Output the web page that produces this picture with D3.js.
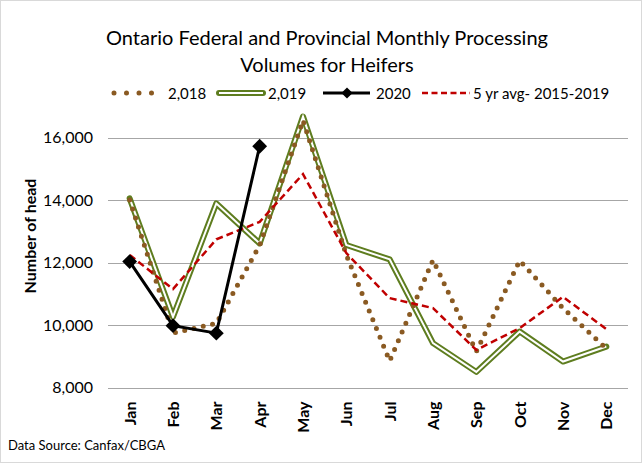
<!DOCTYPE html>
<html>
<head>
<meta charset="utf-8">
<script src="https://cdn.jsdelivr.net/npm/d3@7"></script>
<style>
  body { margin: 0; background: #fff; }
  svg text { font-family: Lato, "Open Sans", sans-serif; }
</style>
</head>
<body>
<div id="chart"></div>
<script>
// chart data
const months = ["Jan", "Feb", "Mar", "Apr", "May", "Jun", "Jul", "Aug", "Sep", "Oct", "Nov", "Dec"];
const yTicks = [8000, 10000, 12000, 14000, 16000];
const vol2018 = [14000, 9740, 10050, 12550, 16550, 12240, 8850, 12080, 9150, 12060, 10540, 9250];
const vol2019 = [14050, 10260, 13890, 12610, 16670, 12560, 12100, 9420, 8500, 9790, 8830, 9310];
const vol2020 = [12030, 9980, 9740, 15720];
const avg5yr = [12240, 11150, 12740, 13300, 14830, 12300, 10860, 10540, 9200, 9900, 10900, 9870];

const width = 642, height = 463;
const margin = { left: 108, right: 14, top: 100, bottom: 75 };

const svg = d3.select("#chart")
    .append("svg")
    .attr("width", width)
    .attr("height", height);

// outer frame
svg.append("rect")
    .attr("x", 0.5).attr("y", 0.5)
    .attr("width", width - 1).attr("height", height - 1)
    .attr("fill", "#fff")
    .attr("stroke", "#d9d9d9");

const xScale = d3.scalePoint()
    .domain(months)
    .range([margin.left, width - margin.right])
    .padding(0.5);

const yScale = d3.scaleLinear()
    .domain([8000, 16000])
    .range([387.5, 137.5]);

// gridlines
svg.append("g")
    .selectAll("line")
    .data(yTicks)
    .enter().append("line")
    .attr("x1", margin.left)
    .attr("x2", width - margin.right)
    .attr("y1", d => Math.round(yScale(d)) + 0.5)
    .attr("y2", d => Math.round(yScale(d)) + 0.5)
    .attr("stroke", "#a6a6a6")
    .attr("stroke-width", 1);

// y axis labels
const yAxis = svg.append("g")
    .attr("transform", `translate(${margin.left}, 0)`)
    .call(d3.axisLeft(yScale).tickValues(yTicks).tickFormat(d3.format(",")).tickSize(0).tickPadding(15));
yAxis.select(".domain").remove();
yAxis.selectAll("text")
    .attr("font-size", 16)
    .attr("fill", "#000")
    .style("font-family", "Lato, sans-serif");

// x axis labels (rotated)
const xAxis = svg.append("g")
    .attr("transform", `translate(0, ${yScale(8000)})`)
    .call(d3.axisBottom(xScale).tickSize(0));
xAxis.select(".domain").remove();
xAxis.selectAll("text")
    .attr("transform", "rotate(-90)")
    .attr("x", -14)
    .attr("y", 0)
    .attr("dy", "0.35em")
    .attr("text-anchor", "end")
    .attr("font-size", 16)
    .attr("font-weight", "bold")
    .attr("fill", "#000")
    .style("font-family", "Lato, sans-serif");

const line = d3.line()
    .x((d, i) => xScale(months[i]))
    .y(d => yScale(d));

// 2019 - double green line
svg.append("path")
    .datum(vol2019)
    .attr("d", line)
    .attr("fill", "none")
    .attr("stroke", "#5e7d1f")
    .attr("stroke-width", 6)
    .attr("stroke-linejoin", "round")
    .attr("stroke-linecap", "round");
svg.append("path")
    .datum(vol2019)
    .attr("d", line)
    .attr("fill", "none")
    .attr("stroke", "#fff")
    .attr("stroke-width", 2);

// 2018 - brown round dots
svg.append("path")
    .datum(vol2018)
    .attr("d", line)
    .attr("fill", "none")
    .attr("stroke", "#8a5a22")
    .attr("stroke-width", 5)
    .attr("stroke-linecap", "round")
    .attr("stroke-dasharray", "0,9.5");

// 5 yr avg - red dashed
svg.append("path")
    .datum(avg5yr)
    .attr("d", line)
    .attr("fill", "none")
    .attr("stroke", "#c00000")
    .attr("stroke-width", 2.5)
    .attr("stroke-dasharray", "7,4");

// 2020 - black line with diamonds
svg.append("path")
    .datum(vol2020)
    .attr("d", line)
    .attr("fill", "none")
    .attr("stroke", "#000")
    .attr("stroke-width", 3);
svg.append("g")
    .selectAll("path")
    .data(vol2020)
    .enter().append("path")
    .attr("d", d3.symbol().type(d3.symbolDiamond2).size(140))
    .attr("transform", (d, i) => `translate(${xScale(months[i])}, ${yScale(d)})`)
    .attr("fill", "#000");

// title
svg.append("text")
    .attr("x", 327).attr("y", 45)
    .attr("text-anchor", "middle")
    .attr("font-size", 20)
    .text("Ontario Federal and Provincial Monthly Processing");
svg.append("text")
    .attr("x", 327).attr("y", 72)
    .attr("text-anchor", "middle")
    .attr("font-size", 20)
    .text("Volumes for Heifers");

// legend
const legend = svg.append("g").attr("transform", "translate(0, 93)");
legend.append("line")
    .attr("x1", 114).attr("x2", 152)
    .attr("stroke", "#8a5a22").attr("stroke-width", 5)
    .attr("stroke-linecap", "round").attr("stroke-dasharray", "0,12.5");
legend.append("text").attr("x", 168).attr("y", 6).attr("font-size", 15).text("2,018");

legend.append("line")
    .attr("x1", 219).attr("x2", 263)
    .attr("stroke", "#5e7d1f").attr("stroke-width", 6).attr("stroke-linecap", "round");
legend.append("line")
    .attr("x1", 219).attr("x2", 263)
    .attr("stroke", "#fff").attr("stroke-width", 2);
legend.append("text").attr("x", 268).attr("y", 6).attr("font-size", 15).text("2,019");

legend.append("line")
    .attr("x1", 323).attr("x2", 370)
    .attr("stroke", "#000").attr("stroke-width", 3);
legend.append("path")
    .attr("d", d3.symbol().type(d3.symbolDiamond2).size(80))
    .attr("transform", "translate(347, 0)")
    .attr("fill", "#000");
legend.append("text").attr("x", 376).attr("y", 6).attr("font-size", 15).text("2020");

legend.append("line")
    .attr("x1", 422).attr("x2", 470)
    .attr("stroke", "#c00000").attr("stroke-width", 2.5).attr("stroke-dasharray", "6,3.5");
legend.append("text").attr("x", 473).attr("y", 6).attr("font-size", 15).text("5 yr avg- 2015-2019");

// y axis title
svg.append("text")
    .attr("transform", "translate(36, 236) rotate(-90)")
    .attr("text-anchor", "middle")
    .attr("font-size", 16)
    .attr("font-weight", "bold")
    .text("Number of head");

// source
svg.append("text")
    .attr("x", 8).attr("y", 450)
    .attr("font-size", 13)
    .text("Data Source: Canfax/CBGA");
</script>
</body>
</html>
